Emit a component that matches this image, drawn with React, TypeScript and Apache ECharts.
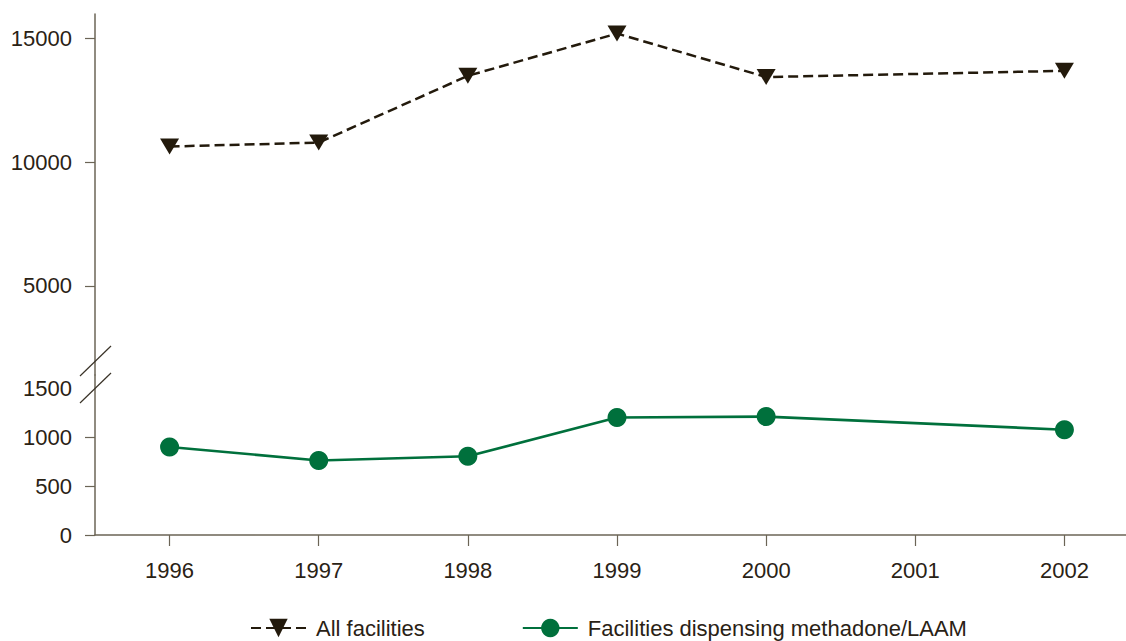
import React, { useEffect, useRef } from "react";
import * as echarts from "echarts";

const years = ["1996", "1997", "1998", "1999", "2000", "2001", "2002"];
const allFacilities: (number | null)[] = [10640, 10800, 13500, 15210, 13450, null, 13700];
const methadoneFacilities: (number | null)[] = [900, 762, 805, 1200, 1210, null, 1076];
const upperTicks = [5000, 10000, 15000];
const lowerLabels = [0, 500, 1000, 1500];
const lowerTicks = [0, 500, 1000];
const seriesNames = ["All facilities", "Facilities dispensing methadone/LAAM"];

const TEXT = "#2a2215";
const AXIS = "#6b6456";
const FONT = "Liberation Sans, Arial, Helvetica, sans-serif";

export default function App() {
  const ref = useRef<HTMLDivElement>(null);
  useEffect(() => {
    if (!ref.current) return;
    const chart = echarts.init(ref.current, null, { renderer: "svg" });
    const axisLine = { show: true, lineStyle: { color: AXIS, width: 1.5 } };
    const plain = (v: number) => String(v);
    chart.setOption({
      animation: false,
      backgroundColor: "#ffffff",
      textStyle: { fontFamily: FONT },
      grid: [
        { left: 95, width: 1044, top: 14, height: 361, containLabel: false, outerBoundsMode: "none" },
        { left: 95, width: 1044, top: 375, height: 160, containLabel: false, outerBoundsMode: "none" },
      ],
      xAxis: [
        {
          type: "category",
          gridIndex: 0,
          data: years,
          boundaryGap: true,
          show: false,
        },
        {
          type: "category",
          gridIndex: 1,
          data: years,
          boundaryGap: true,
          axisLine: axisLine,
          axisTick: { show: true, alignWithLabel: true, length: 11, lineStyle: { color: AXIS, width: 1.2 } },
          axisLabel: { color: TEXT, fontSize: 22, fontFamily: FONT, margin: 24, interval: 0 },
          splitLine: { show: false },
        },
      ],
      yAxis: [
        {
          type: "value",
          gridIndex: 0,
          min: 1400,
          max: 16000,
          axisLine: axisLine,
          axisTick: { show: true, length: 10, lineStyle: { color: AXIS, width: 1.2 }, customValues: upperTicks },
          axisLabel: { color: TEXT, fontSize: 22, fontFamily: FONT, margin: 23, customValues: upperTicks, formatter: plain },
          splitLine: { show: false },
        },
        {
          type: "value",
          gridIndex: 1,
          min: 0,
          max: 1635,
          axisLine: axisLine,
          axisTick: { show: true, length: 10, lineStyle: { color: AXIS, width: 1.2 }, customValues: lowerTicks },
          axisLabel: { color: TEXT, fontSize: 22, fontFamily: FONT, margin: 23, customValues: lowerLabels, formatter: plain },
          splitLine: { show: false },
        },
      ],
      legend: {
        left: 250,
        top: 617,
        padding: 0,
        itemWidth: 55,
        itemHeight: 23,
        itemGap: 97,
        textStyle: { color: TEXT, fontSize: 22, fontFamily: FONT, padding: [0, 0, 0, 5] },
        data: seriesNames,
      },
      series: [
        {
          name: seriesNames[0],
          type: "line",
          xAxisIndex: 0,
          yAxisIndex: 0,
          data: allFacilities,
          connectNulls: true,
          clip: false,
          symbol: "triangle",
          symbolRotate: 180,
          symbolSize: [19, 16],
          showSymbol: true,
          lineStyle: { color: "#231a0c", width: 2.5, type: [10, 5] },
          itemStyle: { color: "#231a0c" },
        },
        {
          name: seriesNames[1],
          type: "line",
          xAxisIndex: 1,
          yAxisIndex: 1,
          data: methadoneFacilities,
          connectNulls: true,
          clip: false,
          symbol: "circle",
          symbolSize: 19,
          showSymbol: true,
          lineStyle: { color: "#00703c", width: 2.6 },
          itemStyle: { color: "#00703c" },
        },
      ],
      graphic: [
        {
          type: "line",
          shape: { x1: 80, y1: 376, x2: 111, y2: 346 },
          style: { stroke: "#3a3328", lineWidth: 1.2 },
          z: 100,
        },
        {
          type: "line",
          shape: { x1: 80, y1: 403, x2: 111, y2: 373 },
          style: { stroke: "#3a3328", lineWidth: 1.2 },
          z: 100,
        },
      ],
    });
    return () => chart.dispose();
  }, []);
  return (
    <div
      ref={ref}
      style={{ position: "fixed", left: 0, top: 0, width: 1126, height: 641, background: "#fff" }}
    />
  );
}
